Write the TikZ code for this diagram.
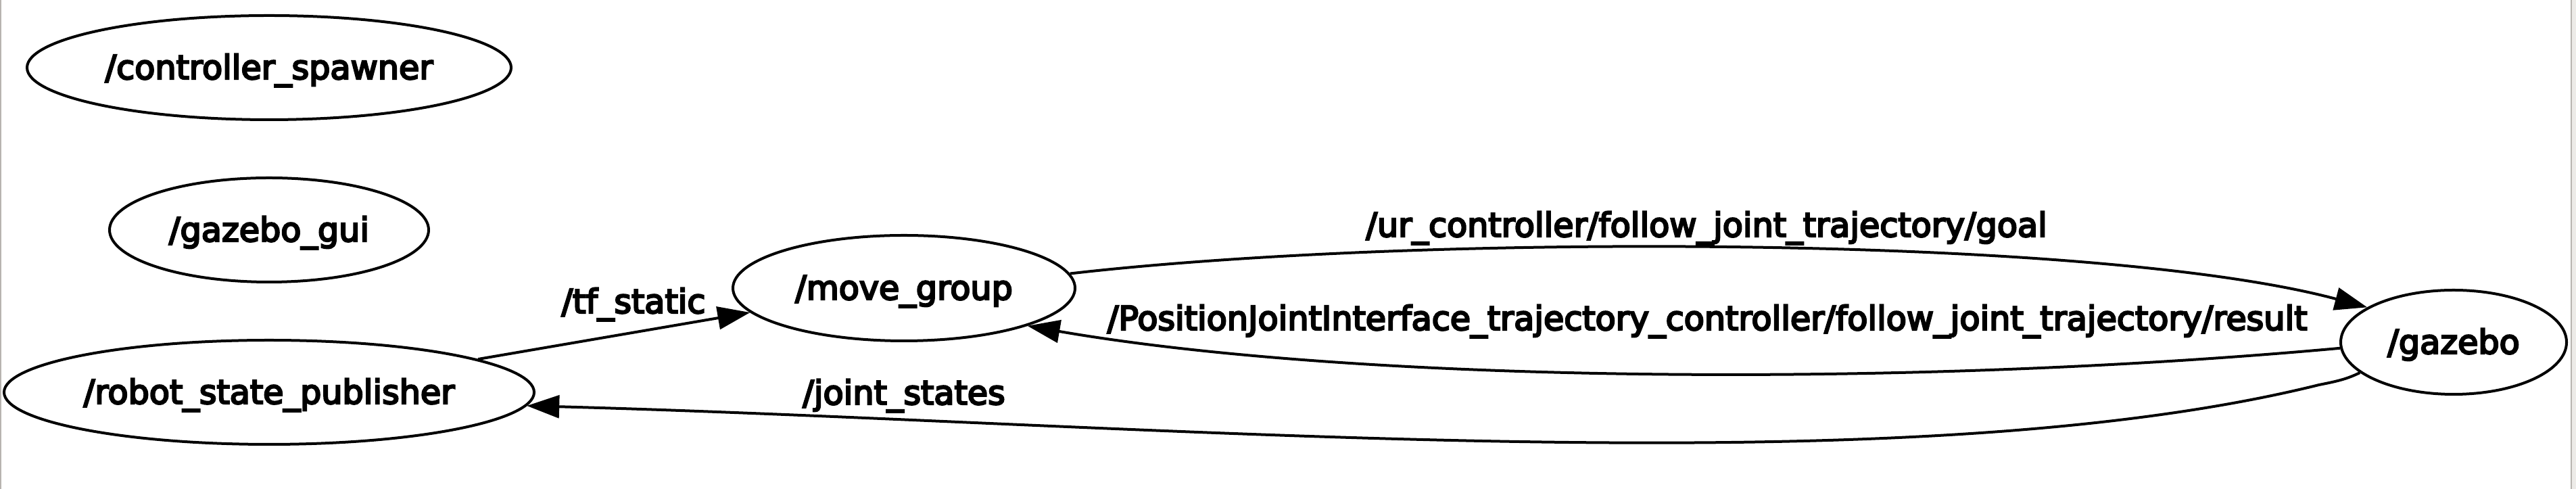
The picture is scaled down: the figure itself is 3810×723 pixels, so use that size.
\documentclass[tikz,border=0pt]{standalone}
\usepackage{fontspec}
\setmainfont{DejaVu Sans}
\newfontfamily\graphfont[RawFeature={embolden=5}]{DejaVu Sans}
\usetikzlibrary{arrows.meta,shapes.geometric}
\definecolor{frameline}{HTML}{B8B4B0}
\definecolor{framefill}{HTML}{EDEBE8}
\begin{document}
\begin{tikzpicture}[x=0.25pt,y=-0.25pt,
  nd/.style={draw=black, line width=1pt, ellipse, inner sep=0pt},
  lab/.style={font=\graphfont\fontsize{12.3}{14}\selectfont, text height=9.5pt, text depth=1pt, inner sep=0pt},
  elab/.style={font=\graphfont\fontsize{12.3}{14}\selectfont, anchor=base, inner sep=0pt},
  edge/.style={line width=1pt, -{Triangle[length=12pt,width=8.4pt]}}]
\useasboundingbox (0,0) rectangle (3810,723);
\fill[white] (0,0) rectangle (3810,723);
\fill[framefill] (3804,0) rectangle (3810,723);
\fill[frameline] (3802,0) rectangle (3804,723);
\fill[frameline] (0,0) rectangle (2,723);

\node[nd, minimum width=179pt, minimum height=38.5pt, label={[lab]center:/controller\_spawner}] (cs) at (398,100) {};
\node[nd, minimum width=118pt, minimum height=38.5pt, label={[lab]center:/gazebo\_gui}] (gg) at (398,340) {};
\node[nd, minimum width=196pt, minimum height=38.5pt, label={[lab]center:/robot\_state\_publisher}] (rsp) at (398,580) {};
\node[nd, minimum width=126.5pt, minimum height=39pt, label={[lab]center:/move\_group}] (mg) at (1337,426) {};
\node[nd, minimum width=83.5pt, minimum height=38.5pt, label={[lab]center:/gazebo}] (gz) at (3629,506) {};

\draw[edge] (rsp.9.3) -- (mg.189.3);
\draw[edge] (mg.5.8) .. controls (2100,345) and (3100,347) .. (gz.158.4);
\draw[edge] (gz.183.8) .. controls (2800,575) and (2000,565) .. (mg.343.1);
\draw[edge] (gz.198.7) .. controls (3470,561) and (3455,564) .. (3430,569) .. controls (2800,725) and (1700,625) .. (rsp.357.15);

\node[elab] (l1) at (937,463) {/tf\_static};
\node[elab] (l2) at (2524,350) {/ur\_controller/follow\_joint\_trajectory/goal};
\node[elab] (l3) at (2525,488) {/PositionJointInterface\_trajectory\_controller/follow\_joint\_trajectory/result};
\node[elab] (l4) at (1337,598) {/joint\_states};
\end{tikzpicture}
\end{document}
